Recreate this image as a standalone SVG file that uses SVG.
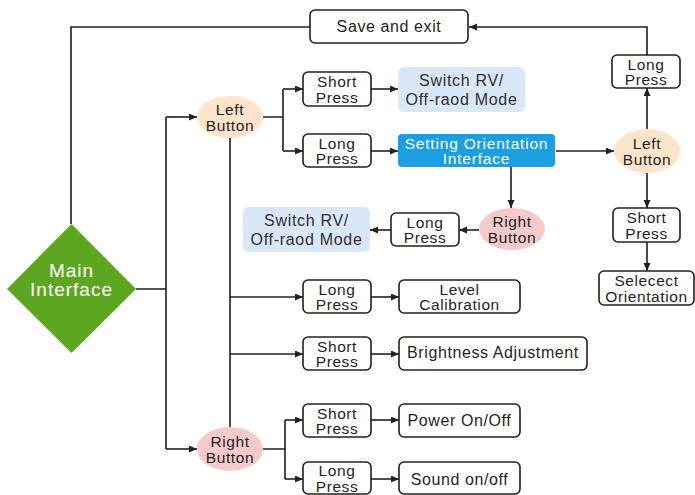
<svg xmlns="http://www.w3.org/2000/svg" width="695" height="495" viewBox="0 0 695 495">
<defs>
<style>
.box{fill:#fff;stroke:#231f20;stroke-width:1.6}
.t{font-family:"Liberation Sans",Arial,sans-serif;font-size:15.5px;fill:#231f20;text-anchor:middle;letter-spacing:0.6px}
.n{font-family:"Liberation Sans",Arial,sans-serif;font-size:16px;fill:#33302f;text-anchor:middle;letter-spacing:0.7px}
.w{fill:#fff}
.c{fill:none;stroke:#231f20;stroke-width:1.6}
.a{marker-end:url(#ah)}
</style>
<marker id="ah" markerUnits="userSpaceOnUse" markerWidth="9" markerHeight="8" refX="8" refY="3.5" orient="auto">
<path d="M0,0 L8,3.5 L0,7 z" fill="#231f20"/>
</marker>
</defs>
<rect width="695" height="495" fill="#fff"/>
<g id="connectors">
<path class="c" d="M71,224 V27 H310"/>
<path class="c a" d="M647,55 V27 H469"/>
<path class="c" d="M136,289 H166 M166,117 V449"/>
<path class="c a" d="M166,117 H197"/>
<path class="c a" d="M166,449 H197"/>
<path class="c" d="M263,117 H283 M283,89 V151"/>
<path class="c a" d="M283,89 H303"/>
<path class="c a" d="M283,151 H303"/>
<path class="c a" d="M371,89 H398"/>
<path class="c a" d="M371,151 H398"/>
<path class="c a" d="M556,151 H614"/>
<path class="c a" d="M647,129 V88"/>
<path class="c a" d="M647,173 V208"/>
<path class="c a" d="M647,242 V271"/>
<path class="c a" d="M511,167 V208"/>
<path class="c a" d="M479,230 H459"/>
<path class="c a" d="M391,230 H370"/>
<path class="c" d="M230,138 V427"/>
<path class="c a" d="M230,297 H303"/>
<path class="c a" d="M230,354 H303"/>
<path class="c" d="M263,449 H285 M285,420 V479"/>
<path class="c a" d="M285,420 H303"/>
<path class="c a" d="M285,479 H303"/>
<path class="c a" d="M371,297 H399"/>
<path class="c a" d="M371,354 H399"/>
<path class="c a" d="M371,420 H399"/>
<path class="c a" d="M371,479 H399"/>
</g>
<g id="save-exit"><rect class="box" x="310" y="10" width="158" height="33" rx="5"/><text class="t" x="389" y="32" style="font-size:16px">Save and exit</text></g>
<g id="main"><path d="M71.5,224 L136,289 L71.5,353 L7,289 z" fill="#5da61f"/><text class="t w" x="71.5" y="277" style="font-size:19px;letter-spacing:1px">Main</text><text class="t w" x="71.5" y="296" style="font-size:19px;letter-spacing:1px">Interface</text></g>
<g id="left-button"><ellipse cx="230" cy="117" rx="33" ry="21" fill="#fde4cb"/><text class="t" x="230" y="115.3">Left</text><text class="t" x="230" y="130.8">Button</text></g>
<g id="right-button"><ellipse cx="230" cy="449" rx="33" ry="22" fill="#f5caca"/><text class="t" x="230" y="447.3">Right</text><text class="t" x="230" y="462.8">Button</text></g>
<g id="lb-short"><rect class="box" x="303" y="72" width="68" height="34" rx="5"/><text class="t" x="337" y="87.3">Short</text><text class="t" x="337" y="102.8">Press</text></g>
<g id="lb-long"><rect class="box" x="303" y="134" width="68" height="33" rx="5"/><text class="t" x="337" y="148.8">Long</text><text class="t" x="337" y="164.3">Press</text></g>
<g id="switch-1"><rect x="398" y="67" width="127" height="45" rx="6" fill="#d9e7f8"/><text class="n" x="461.5" y="86">Switch RV/</text><text class="n" x="461.5" y="105">Off-raod Mode</text></g>
<g id="setting"><rect x="398" y="134" width="157" height="33" rx="4" fill="#1b9fe0"/><text class="t w" x="476.5" y="148.8" style="letter-spacing:0.8px">Setting Orientation</text><text class="t w" x="476.5" y="164.3" style="letter-spacing:0.8px">Interface</text></g>
<g id="set-left"><ellipse cx="647" cy="151" rx="33" ry="22" fill="#fde4cb"/><text class="t" x="647" y="149.3">Left</text><text class="t" x="647" y="164.8">Button</text></g>
<g id="set-long"><rect class="box" x="612" y="55" width="68" height="33" rx="5"/><text class="t" x="646" y="69.8">Long</text><text class="t" x="646" y="85.3">Press</text></g>
<g id="set-short"><rect class="box" x="613" y="208" width="67" height="34" rx="5"/><text class="t" x="646.5" y="223.3">Short</text><text class="t" x="646.5" y="238.8">Press</text></g>
<g id="select-orientation"><rect class="box" x="599" y="271" width="95" height="34" rx="5"/><text class="t" x="646.5" y="286.3">Selecect</text><text class="t" x="646.5" y="301.8">Orientation</text></g>
<g id="set-right"><ellipse cx="512" cy="229" rx="33" ry="21" fill="#f5caca"/><text class="t" x="512" y="227.3">Right</text><text class="t" x="512" y="242.8">Button</text></g>
<g id="rb-long-mid"><rect class="box" x="391" y="213" width="68" height="33" rx="5"/><text class="t" x="425" y="227.8">Long</text><text class="t" x="425" y="243.3">Press</text></g>
<g id="switch-2"><rect x="243" y="207" width="127" height="45" rx="6" fill="#d9e7f8"/><text class="n" x="306.5" y="226">Switch RV/</text><text class="n" x="306.5" y="245">Off-raod Mode</text></g>
<g id="long-level"><rect class="box" x="303" y="280" width="68" height="33" rx="5"/><text class="t" x="337" y="294.8">Long</text><text class="t" x="337" y="310.3">Press</text></g>
<g id="level"><rect class="box" x="399" y="280" width="121" height="33" rx="5"/><text class="t" x="459.5" y="294.8">Level</text><text class="t" x="459.5" y="310.3">Calibration</text></g>
<g id="short-bright"><rect class="box" x="303" y="337" width="68" height="33" rx="5"/><text class="t" x="337" y="351.8">Short</text><text class="t" x="337" y="367.3">Press</text></g>
<g id="brightness"><rect class="box" x="399" y="337" width="188" height="33" rx="5"/><text class="t" x="493" y="358" style="font-size:16px">Brightness Adjustment</text></g>
<g id="short-power"><rect class="box" x="303" y="404" width="68" height="33" rx="5"/><text class="t" x="337" y="418.8">Short</text><text class="t" x="337" y="434.3">Press</text></g>
<g id="power"><rect class="box" x="399" y="404" width="121" height="33" rx="5"/><text class="t" x="459.5" y="426" style="font-size:16px">Power On/Off</text></g>
<g id="long-sound"><rect class="box" x="303" y="462" width="68" height="32" rx="5"/><text class="t" x="337" y="476.3">Long</text><text class="t" x="337" y="491.8">Press</text></g>
<g id="sound"><rect class="box" x="399" y="462" width="121" height="32" rx="5"/><text class="t" x="459.5" y="485" style="font-size:16px">Sound on/off</text></g>
</svg>
